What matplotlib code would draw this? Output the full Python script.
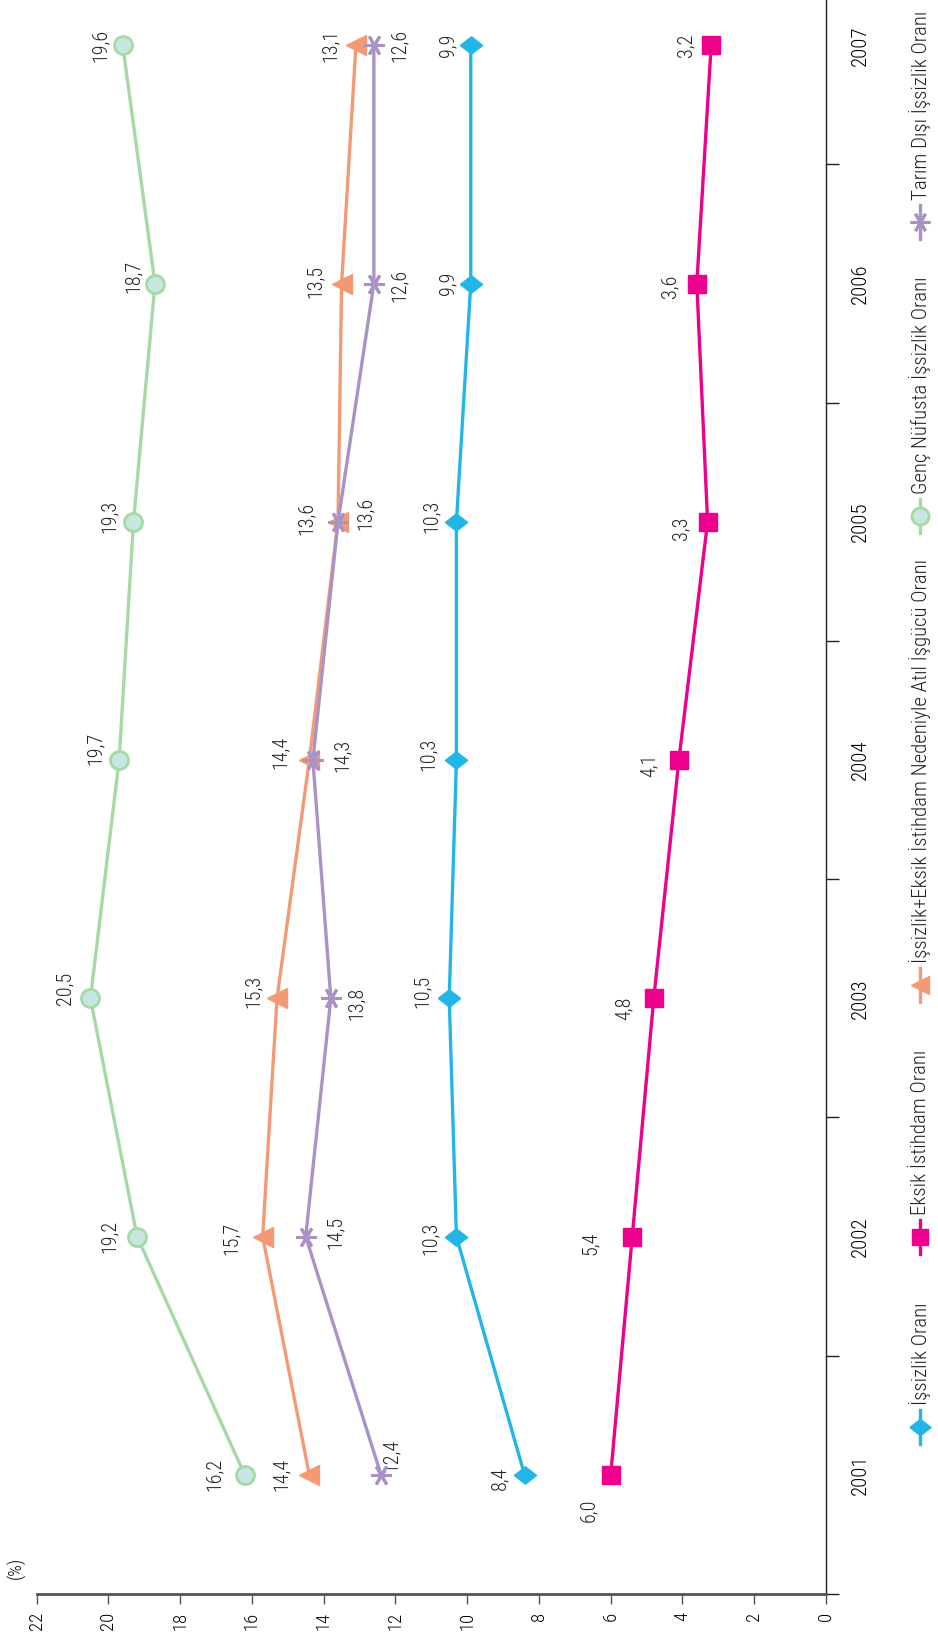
import matplotlib
matplotlib.use('Agg')
import matplotlib.pyplot as plt
from matplotlib.lines import Line2D

# veriler
years = [2001, 2002, 2003, 2004, 2005, 2006, 2007]
issizlik = [8.4, 10.3, 10.5, 10.3, 10.3, 9.9, 9.9]
eksik_istihdam = [6.0, 5.4, 4.8, 4.1, 3.3, 3.6, 3.2]
issizlik_eksik = [14.4, 15.7, 15.3, 14.4, 13.6, 13.5, 13.1]
genc_nufus = [16.2, 19.2, 20.5, 19.7, 19.3, 18.7, 19.6]
tarim_disi = [12.4, 14.5, 13.8, 14.3, 13.6, 12.6, 12.6]

names = ["İşsizlik Oranı", "Eksik İstihdam Oranı",
         "İşsizlik+Eksik İstihdam Nedeniyle Atıl İşgücü Oranı",
         "Genç Nüfusta İşsizlik Oranı", "Tarım Dışı İşsizlik Oranı"]
value_ticks = list(range(0, 23, 2))

FONT = ['Roboto Condensed', 'DejaVu Sans']
S = 938 / 897  # gösterilen -> tam boyut

diamond = [(-1, 0), (0, 0.78), (1, 0), (0, -0.78), (-1, 0)]
styles = [
    dict(color='#22b5e8', marker=diamond, ms=16, mfc='#22b5e8', mec='#22b5e8', mew=1),
    dict(color='#ec008c', marker='s', ms=12.5, mfc='#ec008c', mec='#ec008c', mew=1),
    dict(color='#f39a74', marker='<', ms=14, mfc='#f39a74', mec='#f39a74', mew=1),
    dict(color='#a6d9a6', marker='o', ms=13, mfc='#c6e7df', mec='#a6d9a6', mew=2),
    dict(color='#a992c6', marker=(6, 2, 30), ms=15, mfc='#a992c6', mec='#a992c6', mew=2.2),
]
series = [issizlik, eksik_istihdam, issizlik_eksik, genc_nufus, tarim_disi]

# etiket kaydırmaları (piksel, görüntü yönünde)
offsets = [
    [(-24, 3), (-25, 2), (-26, -7), (-27, -5), (-24, -5), (-22, 0), (-22, 0)],
    [(-21, 34), (-40, 6), (-28, 10), (-28, 5), (-26, 6), (-26, 3), (-24, 0)],
    [(-27, 0), (-30, 2), (-23, -7), (-28, -7), (-30, -3), (-25, -2), (-25, 0)],
    [(-29, 0), (-27, 0), (-24, -10), (-23, -11), (-23, -5), (-21, -7), (-21, 0)],
    [(10, -19), (28, -4), (24, 5), (28, -4), (26, -8), (24, 2), (24, 0)],
]

fig = plt.figure(figsize=(9.38, 16.39), dpi=100)
ax = fig.add_axes([36.6 / 938, 1 - 1594 / 1639, (826 - 36.6) / 938, 1594 / 1639])

order = [3, 2, 4, 0, 1]
for i in order:
    st = styles[i]
    ax.plot(series[i], years, lw=2.4, zorder=3 + i, clip_on=False, **st)
    for v, y, (dx, dy) in zip(series[i], years, offsets[i]):
        ax.annotate(f"{v:.1f}".replace('.', ','), (v, y), xytext=(dx * S, -dy * S),
                    textcoords='offset pixels', rotation=90, ha='center', va='center',
                    fontsize=14.5, family=FONT, fontweight='light', color='#222222')

ax.set_xlim(22, 0)
ax.set_ylim(2000.5, 2007.19)
ax.spines['top'].set_visible(False)
ax.spines['left'].set_visible(False)
ax.spines['bottom'].set_color('#555555')
ax.spines['bottom'].set_linewidth(2)
ax.spines['right'].set_color('#222222')
ax.spines['right'].set_linewidth(1)

ax.set_xticks(value_ticks)
ax.set_xticklabels([str(t) for t in value_ticks], rotation=90, family=FONT,
                   fontsize=13.5, fontweight='light')
ax.tick_params(axis='x', direction='out', length=7, width=1, color='#555555', pad=6)

ax.yaxis.tick_right()
ax.set_yticks(years)
ax.set_yticklabels([str(y) for y in years], rotation=90, va='center', family=FONT,
                   fontsize=15, fontweight='light')
ax.set_yticks([y - 0.5 for y in years], minor=True)
ax.tick_params(axis='y', which='major', length=0, pad=18)
ax.tick_params(axis='y', which='minor', direction='out', length=9, width=1, color='#222222')

fig.text(16 / 938, 1 - 1568 / 1639, "(%)", rotation=90, ha='center', va='center',
         fontsize=13, family=FONT, fontweight='light')

# lejant (döndürülmüş, elle yerleştirildi)
leg_x = 920
leg_y = [1427, 1237, 985, 516, 222]
for i, ly in enumerate(leg_y):
    st = dict(styles[i])
    st['ms'] = st['ms'] * 0.95
    fx = leg_x / 938
    fig.add_artist(Line2D([fx, fx], [1 - (ly + 17) / 1639, 1 - (ly - 17) / 1639],
                          transform=fig.transFigure, lw=2.4, **st, markevery=[]))
    fig.add_artist(Line2D([fx], [1 - ly / 1639], transform=fig.transFigure, lw=0,
                          marker=st['marker'], ms=st['ms'], mfc=st['mfc'], mec=st['mec'],
                          mew=st['mew']))
    fig.text(fx, 1 - (ly - 22) / 1639, names[i], rotation=90, ha='center', va='bottom',
             fontsize=15, family=FONT, fontweight='light', color='#222222')

fig.savefig('out.png', dpi=100)
